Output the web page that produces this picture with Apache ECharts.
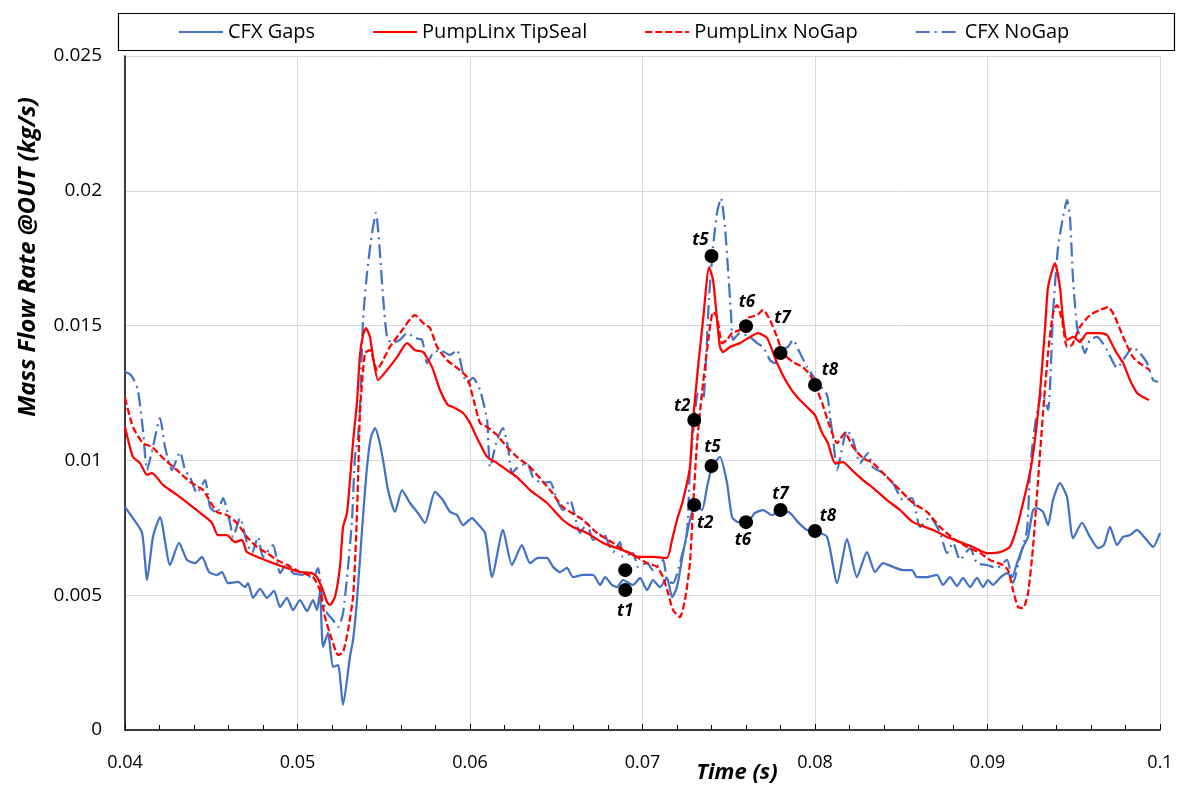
<!DOCTYPE html>
<html><head><meta charset="utf-8">
<script src="https://cdn.jsdelivr.net/npm/echarts@6/dist/echarts.min.js"></script>
<style>html,body{margin:0;padding:0;background:#fff}#c{width:1180px;height:787px}</style>
</head><body><div id="c"></div>
<script>
const seriesNames = ['CFX Gaps', 'PumpLinx TipSeal', 'PumpLinx NoGap', 'CFX NoGap'];
const xAxisTitle = 'Time (s)';
const yAxisTitle = 'Mass Flow Rate @OUT (kg/s)';

const cfxGaps = [[0.0400,0.00827],[0.04046,0.00786],[0.04099,0.00731],[0.04128,0.00556],[0.04162,0.00716],[0.04203,0.0079],[0.04261,0.00612],[0.04313,0.00694],[0.04359,0.00631],[0.04406,0.00619],[0.04446,0.00642],[0.04487,0.00586],[0.04533,0.00575],[0.04562,0.00586],[0.04597,0.00545],[0.04655,0.00549],[0.04696,0.0053],[0.04713,0.00545],[0.04742,0.0049],[0.04783,0.00523],[0.04823,0.0049],[0.04864,0.00516],[0.04899,0.00456],[0.04939,0.0049],[0.04974,0.00445],[0.05014,0.00482],[0.05055,0.00441],[0.0509,0.00482],[0.05113,0.00445],[0.0513,0.00512],[0.05148,0.00308],[0.05177,0.0036],[0.05206,0.00234],[0.05235,0.00241],[0.05264,0.00093],[0.05304,0.00271],[0.05322,0.00334],[0.05345,0.00482],[0.05374,0.00742],[0.05403,0.00975],[0.05426,0.01087],[0.0545,0.0112],[0.05473,0.01076],[0.05496,0.01001],[0.05525,0.0089],[0.05565,0.00809],[0.05606,0.0089],[0.05652,0.00842],[0.05698,0.00805],[0.05739,0.00768],[0.05797,0.00883],[0.05843,0.00853],[0.05884,0.00809],[0.05925,0.00797],[0.05959,0.0076],[0.06012,0.00786],[0.0604,0.00768],[0.06087,0.00731],[0.06128,0.00567],[0.06191,0.00742],[0.06243,0.00612],[0.06301,0.00686],[0.06348,0.00619],[0.06394,0.00638],[0.06446,0.00638],[0.06481,0.00605],[0.06522,0.00586],[0.06562,0.00601],[0.06597,0.00567],[0.06655,0.00575],[0.06713,0.00575],[0.06754,0.00538],[0.06783,0.00567],[0.06823,0.00538],[0.06852,0.0053],[0.06887,0.00556],[0.06945,0.00538],[0.06986,0.00564],[0.07026,0.00519],[0.07061,0.00556],[0.07101,0.0053],[0.07142,0.00564],[0.07171,0.00493],[0.072,0.0053],[0.07235,0.00656],[0.07275,0.00779],[0.07304,0.00835],[0.07345,0.00816],[0.07374,0.00901],[0.07403,0.00975],[0.07449,0.01013],[0.0749,0.00916],[0.07519,0.0079],[0.07554,0.00771],[0.07606,0.00771],[0.07652,0.00805],[0.07699,0.00816],[0.07751,0.00797],[0.07809,0.00816],[0.07855,0.00805],[0.07901,0.00771],[0.07953,0.00742],[0.08,0.00738],[0.0807,0.00716],[0.08128,0.00545],[0.08186,0.00708],[0.08243,0.00567],[0.08301,0.0066],[0.08348,0.00586],[0.08394,0.00619],[0.08452,0.00605],[0.0851,0.00593],[0.08562,0.00593],[0.08591,0.00567],[0.08649,0.00567],[0.08707,0.00575],[0.08742,0.00538],[0.08783,0.00567],[0.08823,0.00534],[0.08858,0.00564],[0.08899,0.0053],[0.08939,0.00564],[0.08974,0.0053],[0.09003,0.00556],[0.09032,0.00538],[0.09072,0.00564],[0.09113,0.00582],[0.09142,0.00567],[0.09171,0.00619],[0.09206,0.00679],[0.09235,0.00716],[0.09264,0.00816],[0.09287,0.00823],[0.09322,0.00809],[0.09351,0.0076],[0.0938,0.00853],[0.0942,0.00916],[0.09461,0.00864],[0.09496,0.00712],[0.09548,0.00768],[0.09594,0.00716],[0.09641,0.00675],[0.09675,0.00686],[0.0971,0.00753],[0.09751,0.00686],[0.09786,0.00716],[0.09826,0.00723],[0.09867,0.00742],[0.09913,0.00712],[0.0996,0.00679],[0.1,0.00731]];

const tipSeal = [[0.04,0.01124],[0.04046,0.01013],[0.04087,0.0099],[0.04128,0.00946],[0.04157,0.00953],[0.0422,0.00909],[0.04301,0.00872],[0.04377,0.00835],[0.04452,0.00797],[0.04504,0.00768],[0.04539,0.00723],[0.04591,0.00723],[0.04638,0.00697],[0.04678,0.00705],[0.04707,0.0066],[0.04783,0.00638],[0.04858,0.00619],[0.04939,0.00601],[0.05014,0.00586],[0.05084,0.00582],[0.05113,0.00567],[0.05142,0.00527],[0.05171,0.00475],[0.05188,0.00464],[0.05217,0.00493],[0.05246,0.00605],[0.05264,0.00753],[0.05287,0.00805],[0.05304,0.00927],[0.05322,0.01068],[0.05345,0.01217],[0.05362,0.01391],[0.0538,0.01465],[0.05397,0.01491],[0.0542,0.01458],[0.05438,0.01383],[0.05467,0.01298],[0.05519,0.01335],[0.05577,0.01383],[0.05635,0.01435],[0.05681,0.01409],[0.05728,0.01402],[0.0578,0.01346],[0.05826,0.01261],[0.05872,0.01205],[0.05901,0.01198],[0.05959,0.01176],[0.06,0.01139],[0.06041,0.01083],[0.06099,0.01013],[0.06157,0.0099],[0.06214,0.00964],[0.06272,0.00938],[0.06348,0.0089],[0.06446,0.00842],[0.06539,0.00779],[0.06597,0.00753],[0.06678,0.00731],[0.06771,0.00694],[0.06852,0.00675],[0.06928,0.00656],[0.06968,0.00642],[0.07061,0.00642],[0.07142,0.00638],[0.07171,0.00705],[0.072,0.00779],[0.07235,0.00853],[0.07275,0.00975],[0.07293,0.0115],[0.07322,0.01346],[0.07351,0.01521],[0.07386,0.01717],[0.07409,0.01669],[0.07432,0.01521],[0.07449,0.01421],[0.07467,0.01402],[0.07507,0.01421],[0.07565,0.01435],[0.07623,0.01458],[0.0767,0.01472],[0.07722,0.01454],[0.0778,0.01361],[0.07838,0.01287],[0.07896,0.01235],[0.07954,0.01198],[0.08,0.01168],[0.08041,0.01102],[0.08075,0.01064],[0.08116,0.0099],[0.08162,0.00994],[0.08214,0.00964],[0.08278,0.00927],[0.08336,0.00898],[0.08417,0.00853],[0.08493,0.00816],[0.08568,0.00771],[0.08684,0.00742],[0.08765,0.00716],[0.08841,0.00697],[0.08916,0.00679],[0.08997,0.00656],[0.09072,0.0066],[0.0913,0.00679],[0.09171,0.00753],[0.09206,0.00842],[0.09246,0.00953],[0.09275,0.01076],[0.09304,0.0125],[0.09333,0.01484],[0.09351,0.01643],[0.09391,0.01732],[0.0942,0.01643],[0.09438,0.01521],[0.09461,0.01447],[0.09496,0.01458],[0.09536,0.01439],[0.09577,0.01472],[0.09652,0.01472],[0.09693,0.01465],[0.09739,0.01409],[0.09786,0.01361],[0.09826,0.01298],[0.09867,0.0125],[0.09901,0.01235],[0.09936,0.01224]];

const noGapPL = [[0.04,0.01231],[0.04046,0.01124],[0.04104,0.01064],[0.04157,0.0105],[0.0422,0.01009],[0.04301,0.00964],[0.04377,0.0092],[0.04452,0.0089],[0.04533,0.00809],[0.04591,0.00797],[0.04649,0.00768],[0.04707,0.00716],[0.04765,0.00679],[0.04823,0.00656],[0.04881,0.00631],[0.04939,0.00612],[0.05014,0.00586],[0.0509,0.00567],[0.0513,0.00519],[0.05159,0.00419],[0.052,0.00334],[0.05235,0.00278],[0.05264,0.00289],[0.05293,0.00371],[0.05322,0.00493],[0.05339,0.00705],[0.05351,0.00927],[0.05362,0.01176],[0.05391,0.01398],[0.0542,0.01409],[0.05461,0.01335],[0.05496,0.01372],[0.05536,0.01421],[0.05594,0.01472],[0.05681,0.01539],[0.05728,0.0151],[0.05768,0.01491],[0.05809,0.01421],[0.05867,0.01372],[0.05925,0.01343],[0.05983,0.01309],[0.06017,0.01235],[0.06058,0.01139],[0.06099,0.01124],[0.06157,0.01094],[0.06214,0.0105],[0.06272,0.01013],[0.06348,0.00975],[0.06464,0.0089],[0.06539,0.00827],[0.06655,0.00779],[0.06736,0.00731],[0.06829,0.00694],[0.06887,0.00668],[0.06968,0.00642],[0.07026,0.00619],[0.07084,0.00605],[0.07119,0.00567],[0.07148,0.00508],[0.07177,0.00445],[0.07217,0.00419],[0.07246,0.00482],[0.07275,0.00619],[0.07293,0.00827],[0.07316,0.01064],[0.07345,0.0125],[0.07374,0.01409],[0.07409,0.0155],[0.07432,0.01532],[0.07461,0.01435],[0.0749,0.01447],[0.07519,0.01472],[0.07565,0.01484],[0.07612,0.01528],[0.07664,0.01539],[0.07699,0.01558],[0.07739,0.01521],[0.0778,0.01458],[0.07814,0.01398],[0.07872,0.01365],[0.0793,0.01346],[0.07971,0.01317],[0.08,0.0128],[0.08041,0.01213],[0.08087,0.01124],[0.08128,0.01064],[0.08174,0.01102],[0.0822,0.0105],[0.08278,0.01009],[0.08336,0.0099],[0.08417,0.00938],[0.08493,0.0089],[0.08568,0.00842],[0.08649,0.00809],[0.08725,0.00753],[0.088,0.00712],[0.08881,0.00679],[0.08957,0.00656],[0.09014,0.00631],[0.0909,0.00612],[0.09119,0.00593],[0.09148,0.00519],[0.09177,0.00456],[0.09206,0.00452],[0.09235,0.00508],[0.09264,0.00679],[0.09293,0.00927],[0.09322,0.01176],[0.09351,0.01398],[0.0938,0.01547],[0.09403,0.01576],[0.09432,0.01521],[0.09461,0.01421],[0.0949,0.01428],[0.09536,0.01495],[0.09594,0.01539],[0.09652,0.01558],[0.09699,0.01569],[0.09739,0.01532],[0.09786,0.01458],[0.09843,0.01383],[0.09896,0.01354],[0.09942,0.01335]];

const cfxNoGap = [[0.04,0.01328],[0.04029,0.0132],[0.04052,0.01298],[0.04075,0.01261],[0.04104,0.01113],[0.04128,0.00964],[0.04162,0.0105],[0.04203,0.01157],[0.04232,0.0105],[0.04272,0.00964],[0.04319,0.01031],[0.04348,0.00964],[0.04377,0.00938],[0.04417,0.00879],[0.04464,0.00927],[0.04493,0.00827],[0.04533,0.00805],[0.04568,0.0086],[0.04609,0.00768],[0.04626,0.00716],[0.04667,0.00786],[0.04707,0.00694],[0.04736,0.00656],[0.04771,0.00716],[0.048,0.00642],[0.04858,0.00686],[0.04899,0.00582],[0.04939,0.00619],[0.04974,0.00582],[0.05032,0.00575],[0.0509,0.00567],[0.05119,0.006],[0.05142,0.00493],[0.05171,0.00434],[0.05206,0.00408],[0.05235,0.00382],[0.05264,0.00434],[0.05293,0.00605],[0.05316,0.00779],[0.05333,0.01013],[0.05351,0.01087],[0.05362,0.01198],[0.0538,0.01521],[0.05403,0.01695],[0.05432,0.01843],[0.05455,0.01918],[0.05478,0.01769],[0.05496,0.01606],[0.05519,0.01458],[0.05548,0.01435],[0.05594,0.01447],[0.05635,0.01472],[0.05681,0.01454],[0.05722,0.01447],[0.05751,0.01361],[0.05786,0.01398],[0.05826,0.01409],[0.05884,0.01391],[0.05925,0.01409],[0.05959,0.01324],[0.05983,0.01287],[0.06017,0.01306],[0.06058,0.01261],[0.06099,0.0115],[0.06116,0.00975],[0.06157,0.01076],[0.06191,0.0112],[0.0622,0.0105],[0.06243,0.00953],[0.06272,0.00972],[0.0633,0.0099],[0.06365,0.00938],[0.06417,0.00916],[0.06464,0.0092],[0.06504,0.00853],[0.06539,0.00816],[0.0658,0.00853],[0.06638,0.00731],[0.06678,0.00768],[0.06713,0.00705],[0.06771,0.00731],[0.06829,0.0066],[0.0687,0.00697],[0.06887,0.00642],[0.06945,0.00656],[0.06974,0.00605],[0.07026,0.00619],[0.07061,0.00593],[0.07119,0.00631],[0.07142,0.00556],[0.07177,0.00545],[0.07217,0.00619],[0.07258,0.00731],[0.07275,0.00975],[0.07293,0.01102],[0.07322,0.0125],[0.07351,0.01224],[0.07368,0.01372],[0.07386,0.01606],[0.07409,0.01791],[0.07432,0.01918],[0.07455,0.01973],[0.07478,0.01866],[0.07496,0.01706],[0.07513,0.01547],[0.07525,0.01447],[0.07565,0.01472],[0.07623,0.01458],[0.07664,0.01435],[0.07699,0.01421],[0.07739,0.01372],[0.07768,0.01361],[0.07797,0.01409],[0.07843,0.01421],[0.07872,0.01447],[0.07913,0.01398],[0.07954,0.01346],[0.08017,0.01287],[0.0807,0.01242],[0.08087,0.01161],[0.08104,0.01087],[0.08128,0.00964],[0.08186,0.01113],[0.0822,0.01076],[0.08261,0.0099],[0.08307,0.01027],[0.08336,0.00975],[0.08394,0.00953],[0.08452,0.00916],[0.0851,0.00853],[0.08562,0.0086],[0.08609,0.00753],[0.08667,0.0079],[0.08725,0.00731],[0.08765,0.00656],[0.088,0.00694],[0.08841,0.00631],[0.08899,0.00675],[0.08939,0.00619],[0.08997,0.00612],[0.09055,0.00601],[0.09113,0.00631],[0.09148,0.00545],[0.09188,0.00642],[0.09229,0.00742],[0.09246,0.00953],[0.09264,0.01076],[0.09287,0.01176],[0.09316,0.0125],[0.09351,0.01187],[0.0938,0.01547],[0.09409,0.01791],[0.09438,0.01903],[0.09461,0.01966],[0.09478,0.01903],[0.09496,0.01669],[0.09519,0.01495],[0.09536,0.01458],[0.09565,0.01398],[0.09594,0.01447],[0.09635,0.01458],[0.09693,0.01409],[0.09751,0.01343],[0.09797,0.01383],[0.09843,0.0142],[0.09884,0.01398],[0.09925,0.01361],[0.0996,0.01298],[0.09988,0.01291]];

// Highlighted instants (black dots) and their labels
const markerT = [0.069, 0.069, 0.073, 0.073, 0.074, 0.074, 0.076, 0.076, 0.078, 0.078, 0.080, 0.080];
const markerY = [0.00593, 0.00519, 0.0115, 0.00835, 0.01758, 0.00979, 0.01498, 0.00771, 0.01398, 0.00816, 0.0128, 0.00738];
const markerText = ['', 't1', 't2', 't2', 't5', 't5', 't6', 't6', 't7', 't7', 't8', 't8'];

// label placement style for each marker: [position, dx, dy]
const labelPlace = [['top',0,0],['bottom',0,4],['top',-12,4],['bottom',11,1],['top',-11,2],['top',1,-1],['top',1,-6],['bottom',-3,1],['top',2,-17],['top',0,2],['top',15,3],['top',13,3]];

const BLUE = '#4472C4', RED = '#FF0000';
const fmt = v => String(+v.toFixed(4));

const markerData = markerT.map((t, i) => ({
  value: [t, markerY[i]],
  label: {
    show: markerText[i] !== '',
    formatter: markerText[i],
    position: labelPlace[i][0],
    offset: [labelPlace[i][1], labelPlace[i][2]],
    distance: 2
  }
}));

const chart = echarts.init(document.getElementById('c'), null, {renderer: 'canvas'});
const lineBase = {type: 'line', showSymbol: false, symbol: 'none', smooth: 0.2, animation: false};

chart.setOption({
  animation: false,
  backgroundColor: '#fff',
  grid: {left: 125, right: 20, top: 56, bottom: 57, containLabel: false},
  legend: {
    data: seriesNames,
    left: 178, top: 22, padding: 0,
    itemWidth: 44, itemHeight: 14, itemGap: 57,
    itemStyle: {opacity: 0},
    textStyle: {fontFamily: 'Open Sans', fontSize: 20, color: '#000'}
  },
  xAxis: {
    type: 'value', min: 0.04, max: 0.1, interval: 0.01,
    axisLine: {show: true, onZero: false, lineStyle: {color: '#000', width: 1.5}},
    axisTick: {show: true, inside: true, length: 6, lineStyle: {color: '#000'}},
    minorTick: {show: true, splitNumber: 5, length: 5, lineStyle: {color: '#000'}},
    axisLabel: {formatter: fmt, fontFamily: 'Open Sans', fontSize: 18, color: '#000', margin: 24},
    splitLine: {show: true, lineStyle: {color: '#d9d9d9', width: 1}}
  },
  yAxis: {
    type: 'value', min: 0, max: 0.025, interval: 0.005,
    axisLine: {show: true, lineStyle: {color: '#000', width: 1.5}},
    axisTick: {show: false},
    axisLabel: {formatter: fmt, fontFamily: 'Open Sans', fontSize: 19, color: '#000', margin: 23},
    splitLine: {show: true, lineStyle: {color: '#d9d9d9', width: 1}}
  },
  graphic: [
    {type: 'rect', left: 116, top: 11, shape: {width: 1056, height: 37},
     style: {fill: 'none', stroke: '#000', lineWidth: 1.2}, z: 10},
    {type: 'text', x: 28, y: 257, rotation: Math.PI / 2,
     style: {text: yAxisTitle, font: 'italic bold 24px "Open Sans"', fill: '#000', align: 'center', verticalAlign: 'middle'}},
    {type: 'text', x: 737, y: 773,
     style: {text: xAxisTitle, font: 'italic bold 22px "Open Sans"', fill: '#000', align: 'center', verticalAlign: 'middle'}}
  ],
  series: [
    Object.assign({}, lineBase, {name: seriesNames[0], data: cfxGaps, z: 3,
      itemStyle: {color: BLUE}, lineStyle: {color: BLUE, width: 2.25}}),
    Object.assign({}, lineBase, {name: seriesNames[1], data: tipSeal, z: 4,
      itemStyle: {color: RED}, lineStyle: {color: RED, width: 2.25}}),
    Object.assign({}, lineBase, {name: seriesNames[2], data: noGapPL, z: 5,
      itemStyle: {color: RED}, lineStyle: {color: RED, width: 2.25, type: [7, 3]}}),
    Object.assign({}, lineBase, {name: seriesNames[3], data: cfxNoGap, z: 2,
      itemStyle: {color: BLUE}, lineStyle: {color: BLUE, width: 2.25, type: [14, 5, 2, 5]}}),
    {type: 'scatter', name: 'markers', data: markerData, symbolSize: 14, z: 10,
      itemStyle: {color: '#000', opacity: 1},
      label: {color: '#000', fontFamily: 'Open Sans', fontStyle: 'italic', fontWeight: 'bold', fontSize: 17}}
  ]
});
</script></body></html>
